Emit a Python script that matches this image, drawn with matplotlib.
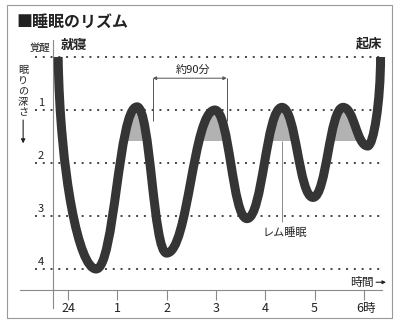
import matplotlib
matplotlib.use("Agg")
import matplotlib.pyplot as plt
from matplotlib.path import Path
from matplotlib.patches import PathPatch, Rectangle

plt.rcParams['font.family'] = ['Noto Sans CJK JP', 'DejaVu Sans']

# ---------------------------------------------------------------------------
# Dane
# ---------------------------------------------------------------------------
hours = [0, 1, 2, 3, 4, 5, 6]
hour_labels = ['24', '1', '2', '3', '4', '5', '6時']
depth_levels = [0, 1, 2, 3, 4]
depth_labels = ['覚醒', '1', '2', '3', '4']

# ekstrema krzywej snu: godziny po 24:00 i głębokość snu
curve_h = [-0.20, 0.57, 1.40, 2.00, 2.98, 3.63, 4.34, 4.97, 5.58, 6.08, 6.34]
curve_d = [0.00, 4.00, 0.94, 3.70, 1.00, 3.05, 0.95, 2.65, 0.95, 1.68, 0.00]

rem_level = 1.58          # granica zacienionej fazy REM
cycle_start = 1.72        # początek strzałki "約90分"
cycle_len = 1.5           # 90 minut
rem_label_h = 4.34

TEXT = '#222222'
LINE = '#353535'
GREY = '#8a8a8a'


def wave_path(xs, ys, k=0.45):
    """Gładka krzywa Beziera przez ekstrema (poziome styczne)."""
    verts = [(xs[0], ys[0])]
    codes = [Path.MOVETO]
    n = len(xs)
    for i in range(n - 1):
        x0, y0, x1, y1 = xs[i], ys[i], xs[i + 1], ys[i + 1]
        dx = x1 - x0
        if i == 0:
            c1 = (x0 + 0.05 * dx, y0 + 0.55 * (y1 - y0))
        else:
            c1 = (x0 + k * dx, y0)
        if i == n - 2:
            c2 = (x1, y1 - 0.5 * (y1 - y0))
        else:
            c2 = (x1 - k * dx, y1)
        verts += [c1, c2, (x1, y1)]
        codes += [Path.CURVE4] * 3
    return verts, codes


# osie = cały obrazek; 49.3 px na godzinę, 53 px na poziom głębokości
fig = plt.figure(figsize=(4.0, 3.26), dpi=100)
ax = fig.add_axes([0, 0, 1, 1])
ax.set_xlim(-68 / 49.3, (400 - 68) / 49.3)
ax.set_ylim((326 - 57) / 53, -57 / 53)
ax.axis('off')

# ramka
ax.add_patch(Rectangle((-1.24, -0.98), 7.81, 5.90, fill=False,
                       edgecolor='#999999', lw=0.8))

# tytuł
ax.text(-1.05, -0.66, '■睡眠のリズム', fontsize=11.5, fontweight='bold',
        color=TEXT, ha='left', va='center')

# linie kropkowane poziomów
ax.hlines(depth_levels, -0.67, 6.37, colors='#444444',
          linestyles=[(0, (1, 3))], lw=1.4, zorder=1)

# etykiety poziomów
for d, lab in zip(depth_levels, depth_labels):
    if d == 0:
        ax.text(-0.35, d - 0.17, lab, fontsize=7.5, color=TEXT,
                ha='right', va='center')
    else:
        ax.text(-0.55, d - 0.13, lab, fontsize=8, color=TEXT,
                ha='center', va='center')

# pionowy podpis osi
for i, ch in enumerate('眠りの深さ'):
    ax.text(-0.91, 0.25 + i * 0.2, ch, fontsize=7.3, color=TEXT,
            ha='center', va='center')
ax.annotate('', xy=(-0.91, 1.63), xytext=(-0.91, 1.19),
            arrowprops=dict(arrowstyle='-|>', lw=0.8, color=TEXT,
                            mutation_scale=6, shrinkA=0, shrinkB=0))

# osie
ax.plot([-0.30, -0.30], [-0.32, 4.74], color=GREY, lw=0.8)
ax.plot([-0.97, 6.37], [4.40, 4.40], color=GREY, lw=0.8)
ax.vlines(hours, 4.40, 4.58, colors=GREY, lw=0.8)
for h, lab in zip(hours, hour_labels):
    ax.text(h + (0.05 if lab.endswith('時') else 0), 4.75, lab, fontsize=9,
            color=TEXT, ha='center', va='center')

ax.text(5.97, 4.25, '時間', fontsize=8.5, color=TEXT, ha='center', va='center')
ax.annotate('', xy=(6.45, 4.25), xytext=(6.25, 4.25),
            arrowprops=dict(arrowstyle='-|>', lw=0.8, color=TEXT,
                            mutation_scale=5, shrinkA=0, shrinkB=0))

ax.text(0.12, -0.23, '就寝', fontsize=9.5, fontweight='bold', color=TEXT,
        ha='center', va='center')
ax.text(6.10, -0.26, '起床', fontsize=9.5, fontweight='bold', color=TEXT,
        ha='center', va='center')

# krzywa snu i zacienione fazy REM
verts, codes = wave_path(curve_h, curve_d)
under = Path(verts + [(curve_h[-1], 6), (curve_h[0], 6), (curve_h[0], curve_d[0])],
             codes + [Path.LINETO, Path.LINETO, Path.CLOSEPOLY])
shade = Rectangle((curve_h[1], -1), curve_h[-2] - curve_h[1], rem_level + 1,
                  facecolor='#b2b2b2', edgecolor='none', zorder=2)
ax.add_patch(shade)
shade.set_clip_path(under, ax.transData)

ax.add_patch(PathPatch(Path(verts, codes), fill=False, lw=6.5, edgecolor=LINE,
                       capstyle='butt', joinstyle='round', zorder=4))

# 約90分
c0, c1 = cycle_start, cycle_start + cycle_len
ax.vlines([c0, c1], 0.40, 1.2, colors='#555555', lw=0.7, zorder=3)
ax.annotate('', xy=(c0, 0.40), xytext=(c1, 0.40),
            arrowprops=dict(arrowstyle='<|-|>', lw=0.7, color='#555555',
                            mutation_scale=5, shrinkA=0, shrinkB=0))
ax.text(2.54, 0.245, '約90分', fontsize=8, color=TEXT, ha='center', va='center')

# レム睡眠
ax.vlines(rem_label_h, rem_level, 3.11, colors=GREY, lw=0.7, zorder=3)
ax.text(4.40, 3.32, 'レム睡眠', fontsize=8, color=TEXT, ha='center', va='center')

fig.savefig('out.png', dpi=100)
